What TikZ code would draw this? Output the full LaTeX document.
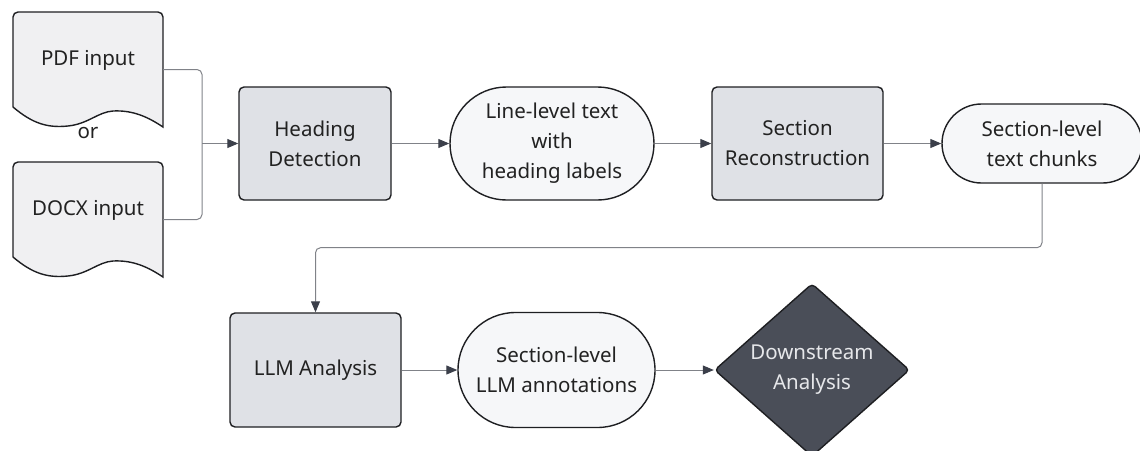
\documentclass[tikz,border=0pt]{standalone}
\usepackage{fontspec}
\setmainfont{Noto Sans}
\usetikzlibrary{shapes.geometric,shapes.misc,arrows.meta}
\definecolor{boxfill}{HTML}{DFE1E6}
\definecolor{pillfill}{HTML}{F6F7F9}
\definecolor{docfill}{HTML}{F0F0F2}
\definecolor{edge}{HTML}{1E1F22}
\definecolor{conn}{HTML}{808288}
\definecolor{tipc}{HTML}{3B3F4A}
\definecolor{darkfill}{HTML}{4A4E58}
\definecolor{darktext}{HTML}{E6E7EA}
\definecolor{txtc}{HTML}{222222}
\tikzset{
  base/.style={draw=edge, line width=1.4pt, align=center, inner sep=2pt, text=txtc},
  procbox/.style={base, fill=boxfill, rounded corners=5pt},
  pill/.style={base, rounded rectangle, fill=pillfill},
  decision/.style={base, diamond, fill=darkfill, text=darktext, rounded corners=4pt, inner sep=0pt},
  docstyle/.style={draw=edge, line width=1.4pt, fill=docfill},
  docanchor/.style={draw=none, minimum width=150pt, minimum height=115pt, inner sep=0pt},
  plain/.style={text=txtc, inner sep=1pt},
  link/.style={draw=conn, line width=1pt, rounded corners=5pt},
  arrowlink/.style={link, -{Triangle[length=11pt,width=9pt,color=tipc]}}
}
\begin{document}
\begin{tikzpicture}[x=1pt, y=-1pt, font=\fontsize{20.5}{30}\selectfont]
\useasboundingbox (0,0) rectangle (1140,450);
% document shapes
\begin{scope}[shift={(13,12)}]
\draw[docstyle] (0,95) [rounded corners=5pt] -- (0,0) -- (150,0) [sharp corners] -- (150,115)
  .. controls (135,105) and (120,98) .. (100,99)
  .. controls (85,100) and (75,112) .. (55,114)
  .. controls (35,116) and (20,112) .. (0,95) -- cycle;
\end{scope}
\begin{scope}[shift={(13,162)}]
\draw[docstyle] (0,95) [rounded corners=5pt] -- (0,0) -- (150,0) [sharp corners] -- (150,115)
  .. controls (135,105) and (120,98) .. (100,99)
  .. controls (85,100) and (75,112) .. (55,114)
  .. controls (35,116) and (20,112) .. (0,95) -- cycle;
\end{scope}
\node[docanchor] (pdf) at (88,69.5) {};
\node[docanchor] (docx) at (88,219.5) {};
\node[plain] (pdftxt) at (88,60) {PDF input};
\node[plain] (ortxt) at (88,133) {or};
\node[plain] (docxtxt) at (88,210) {DOCX input};

% top row
\node[procbox, minimum width=152pt, minimum height=113pt] (hd) at (315,143.5) {Heading\\Detection};
\node[pill, minimum width=208pt, minimum height=113pt] (line) at (552,143.5) {Line-level text\\with\\heading labels};
\node[procbox, minimum width=171pt, minimum height=113pt] (sr) at (797.5,143.5) {Section\\Reconstruction};
\node[pill, minimum width=204pt, minimum height=79pt] (chunks) at (1042,143.5) {Section-level\\text chunks};

% bottom row
\node[procbox, minimum width=171pt, minimum height=114pt] (llm) at (315.5,370) {LLM Analysis};
\node[pill, minimum width=201pt, minimum height=115pt] (ann) at (556.5,370) {Section-level\\LLM annotations};
\node[decision, minimum width=195pt, minimum height=164pt] (down) at (812,370) {Downstream\\Analysis};

% connectors
\coordinate (join) at (202,143.5);
\draw[link] (pdf.east) -| (join);
\draw[link] (docx.east) -| (join);
\draw[arrowlink] (join) -- (hd.west);
\draw[arrowlink] (hd.east) -- (line.west);
\draw[arrowlink] (line.east) -- (sr.west);
\draw[arrowlink] (sr.east) -- (chunks.west);
\draw[arrowlink] (chunks.south) -- ++(0,64) -| (llm.north);
\draw[arrowlink] (llm.east) -- (ann.west);
\draw[arrowlink] (ann.east) -- (down.west);
\end{tikzpicture}
\end{document}
